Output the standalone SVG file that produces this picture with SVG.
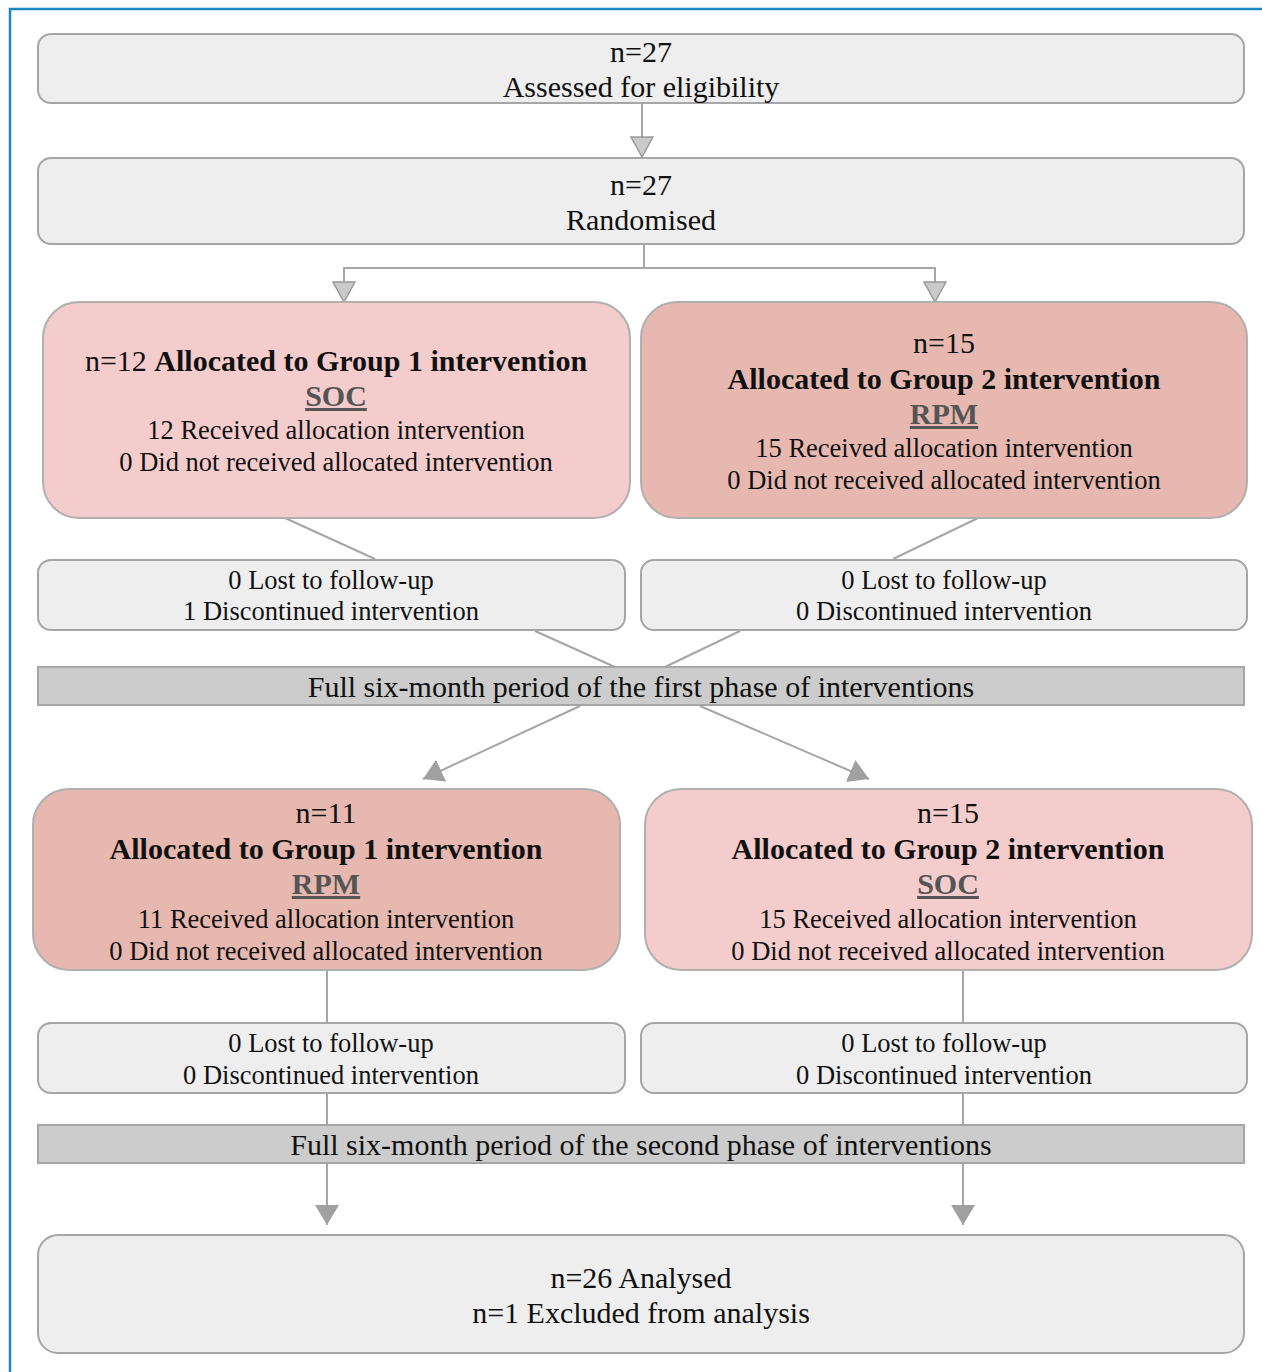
<svg xmlns="http://www.w3.org/2000/svg" width="1262" height="1372" viewBox="0 0 1262 1372">
<defs>
<style>
.box{fill:#eeeeee;stroke:#a6a6a6;stroke-width:2}
.band{fill:#cccccc;stroke:#a6a6a6;stroke-width:2}
.pk1{fill:#f4cccc;stroke:#b0b0b0;stroke-width:2}
.pk2{fill:#e6b8af;stroke:#b0b0b0;stroke-width:2}
.c{fill:none;stroke:#a6a6a6;stroke-width:2}
text{font-family:"Liberation Serif","Times New Roman",serif;font-size:30px;fill:#111;text-anchor:middle}
.s{font-size:26.5px}
.b{font-weight:bold}
.u{font-weight:bold;fill:#555;text-decoration:underline}
</style>
<marker id="aOpen" markerUnits="userSpaceOnUse" viewBox="0 0 22 24" refX="21" refY="12" markerWidth="22" markerHeight="24" orient="auto">
<path d="M1,1 L21,12 L1,23 z" fill="#cacaca" stroke="#999" stroke-width="1.5"/>
</marker>
<marker id="aSolid" markerUnits="userSpaceOnUse" viewBox="0 0 20 24" refX="20" refY="12" markerWidth="20" markerHeight="24" orient="auto">
<path d="M0,0 L20,12 L0,24 z" fill="#a0a0a0"/>
</marker>
</defs>
<rect width="1262" height="1372" fill="#ffffff"/>
<path d="M10,1372 V9 H1262" fill="none" stroke="#1b88c4" stroke-width="2.5"/>

<g id="connectors">
<line class="c" x1="642" y1="104" x2="642" y2="157" marker-end="url(#aOpen)"/>
<path class="c" d="M644,245 V268"/>
<path class="c" d="M644,268 H344 V302" marker-end="url(#aOpen)"/>
<path class="c" d="M644,268 H935 V302" marker-end="url(#aOpen)"/>
<line class="c" x1="285" y1="518" x2="375" y2="559"/>
<line class="c" x1="978" y1="518" x2="893" y2="559"/>
<line class="c" x1="535" y1="631" x2="615" y2="667"/>
<line class="c" x1="740" y1="631" x2="665" y2="667"/>
<line class="c" x1="580" y1="706" x2="423" y2="779" marker-end="url(#aSolid)"/>
<line class="c" x1="700" y1="706" x2="869" y2="779" marker-end="url(#aSolid)"/>
<line class="c" x1="327" y1="970" x2="327" y2="1023"/>
<line class="c" x1="963" y1="970" x2="963" y2="1023"/>
<line class="c" x1="327" y1="1093" x2="327" y2="1125"/>
<line class="c" x1="963" y1="1093" x2="963" y2="1125"/>
<line class="c" x1="327" y1="1163" x2="327" y2="1225" marker-end="url(#aSolid)"/>
<line class="c" x1="963" y1="1163" x2="963" y2="1225" marker-end="url(#aSolid)"/>
</g>

<g id="eligibility">
<rect class="box" x="38" y="34" width="1206" height="69" rx="13"/>
<text x="641" y="62">n=27</text>
<text x="641" y="97">Assessed for eligibility</text>
</g>
<g id="randomised">
<rect class="box" x="38" y="158" width="1206" height="86" rx="13"/>
<text x="641" y="195">n=27</text>
<text x="641" y="230">Randomised</text>
</g>
<g id="g1-phase1">
<rect class="pk1" x="43" y="302" width="587" height="216" rx="36"/>
<text x="336" y="371">n=12 <tspan class="b">Allocated to Group 1 intervention</tspan></text>
<text x="336" y="406" class="u">SOC</text>
<text x="336" y="439" class="s">12 Received allocation intervention</text>
<text x="336" y="471" class="s">0 Did not received allocated intervention</text>
</g>
<g id="g2-phase1">
<rect class="pk2" x="641" y="302" width="606" height="216" rx="36"/>
<text x="944" y="353">n=15</text>
<text x="944" y="389" class="b">Allocated to Group 2 intervention</text>
<text x="944" y="424" class="u">RPM</text>
<text x="944" y="457" class="s">15 Received allocation intervention</text>
<text x="944" y="489" class="s">0 Did not received allocated intervention</text>
</g>
<g id="g1-followup1">
<rect class="box" x="38" y="560" width="587" height="70" rx="13"/>
<text x="331" y="589" class="s">0 Lost to follow-up</text>
<text x="331" y="620" class="s">1 Discontinued intervention</text>
</g>
<g id="g2-followup1">
<rect class="box" x="641" y="560" width="606" height="70" rx="13"/>
<text x="944" y="589" class="s">0 Lost to follow-up</text>
<text x="944" y="620" class="s">0 Discontinued intervention</text>
</g>
<g id="phase1-band">
<rect class="band" x="38" y="667" width="1206" height="38"/>
<text x="641" y="697">Full six-month period of the first phase of interventions</text>
</g>
<g id="g1-phase2">
<rect class="pk2" x="33" y="789" width="587" height="181" rx="36"/>
<text x="326" y="823">n=11</text>
<text x="326" y="859" class="b">Allocated to Group 1 intervention</text>
<text x="326" y="894" class="u">RPM</text>
<text x="326" y="928" class="s">11 Received allocation intervention</text>
<text x="326" y="960" class="s">0 Did not received allocated intervention</text>
</g>
<g id="g2-phase2">
<rect class="pk1" x="645" y="789" width="607" height="181" rx="36"/>
<text x="948" y="823">n=15</text>
<text x="948" y="859" class="b">Allocated to Group 2 intervention</text>
<text x="948" y="894" class="u">SOC</text>
<text x="948" y="928" class="s">15 Received allocation intervention</text>
<text x="948" y="960" class="s">0 Did not received allocated intervention</text>
</g>
<g id="g1-followup2">
<rect class="box" x="38" y="1023" width="587" height="70" rx="13"/>
<text x="331" y="1052" class="s">0 Lost to follow-up</text>
<text x="331" y="1084" class="s">0 Discontinued intervention</text>
</g>
<g id="g2-followup2">
<rect class="box" x="641" y="1023" width="606" height="70" rx="13"/>
<text x="944" y="1052" class="s">0 Lost to follow-up</text>
<text x="944" y="1084" class="s">0 Discontinued intervention</text>
</g>
<g id="phase2-band">
<rect class="band" x="38" y="1125" width="1206" height="38"/>
<text x="641" y="1155">Full six-month period of the second phase of interventions</text>
</g>
<g id="analysed">
<rect class="box" x="38" y="1235" width="1206" height="118" rx="20"/>
<text x="641" y="1288">n=26 Analysed</text>
<text x="641" y="1323">n=1 Excluded from analysis</text>
</g>
</svg>
